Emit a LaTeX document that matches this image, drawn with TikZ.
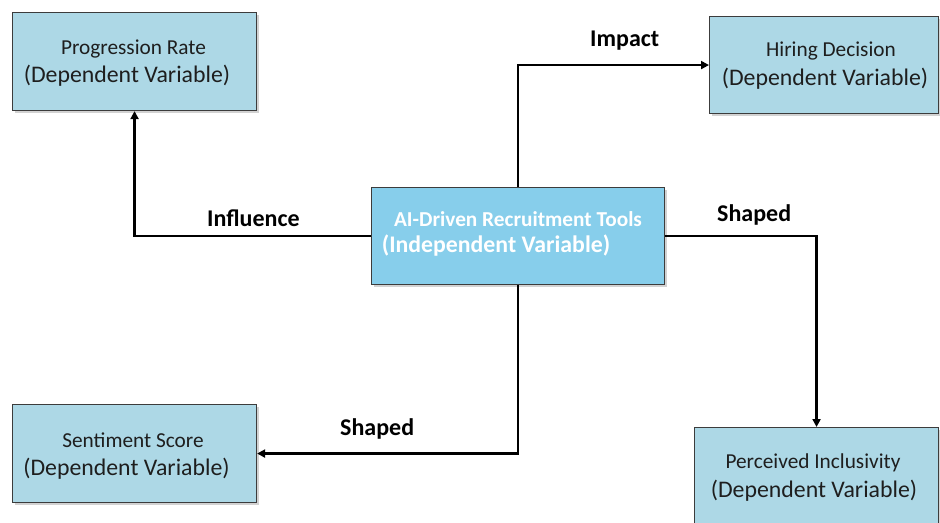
\documentclass[tikz,border=0pt]{standalone}
\usepackage{fontspec}
\setmainfont{Carlito}
\usetikzlibrary{arrows.meta,shadows}
\definecolor{boxblue}{RGB}{173,216,230}
\definecolor{ctrblue}{RGB}{135,206,235}
\definecolor{boxline}{RGB}{60,60,60}
\definecolor{txt}{RGB}{30,30,30}
\tikzset{
  dvbox/.style={draw=boxline, line width=1.1bp, fill=boxblue, rectangle, inner sep=0pt,
    anchor=north west, drop shadow={shadow xshift=2bp, shadow yshift=-2bp, opacity=0.35}},
  ivbox/.style={dvbox, fill=ctrblue},
  smalltxt/.style={anchor=base, inner sep=0pt, text=txt, font=\fontsize{21.3bp}{25bp}\selectfont},
  bigtxt/.style={anchor=base, inner sep=0pt, text=txt, font=\fontsize{23.8bp}{28bp}\selectfont},
  ivsmall/.style={smalltxt, text=white, font=\fontsize{21.3bp}{25bp}\selectfont\bfseries},
  ivbig/.style={bigtxt, text=white, font=\fontsize{23.8bp}{28bp}\selectfont\bfseries},
  lbl/.style={anchor=base west, inner sep=0pt, text=black, font=\fontsize{24bp}{28bp}\selectfont\bfseries},
  conn/.style={draw=black, line width=2.6bp, -{Triangle[length=8bp,width=8bp]}}
}
\begin{document}
\begin{tikzpicture}[x=1bp,y=-1bp]
\useasboundingbox (0,0) rectangle (940,523);
\clip (0,0) rectangle (940,523);
\fill[white] (0,0) rectangle (940,523);

% boxes
\node[dvbox, minimum width=244bp, minimum height=98bp] (prog) at (12,12) {};
\node[dvbox, minimum width=229bp, minimum height=97bp] (hire) at (709,16) {};
\node[ivbox, minimum width=293bp, minimum height=97bp] (ctr) at (371,187) {};
\node[dvbox, minimum width=244bp, minimum height=98bp] (sent) at (12,404) {};
\node[dvbox, minimum width=244bp, minimum height=110bp] (perc) at (694,427) {};

% box texts
\node[smalltxt] (progA) at (133.5,55) {Progression Rate};
\node[bigtxt] (progB) at (127,83) {(Dependent Variable)};
\node[smalltxt] (hireA) at (831,57) {Hiring Decision};
\node[bigtxt] (hireB) at (825,86) {(Dependent Variable)};
\node[ivsmall] (ctrA) at (518,227) {AI-Driven Recruitment Tools};
\node[ivbig] (ctrB) at (496,253) {(Independent Variable)};
\node[smalltxt] (sentA) at (133,447) {Sentiment Score};
\node[bigtxt] (sentB) at (126.5,475) {(Dependent Variable)};
\node[smalltxt] (percA) at (813,468) {Perceived Inclusivity};
\node[bigtxt] (percB) at (814,497) {(Dependent Variable)};

% connectors
\draw[conn] (ctr.west) -| (prog.south);
\draw[conn] (ctr.north) |- (hire.west);
\draw[conn] (ctr.east) -| (perc.north);
\draw[conn] (ctr.south) |- (sent.east);

% labels
\node[lbl] (lInf) at (207,227) {Influence};
\node[lbl] (lImp) at (590,47) {Impact};
\node[lbl] (lSh1) at (717,222) {Shaped};
\node[lbl] (lSh2) at (340,435) {Shaped};
\end{tikzpicture}
\end{document}
